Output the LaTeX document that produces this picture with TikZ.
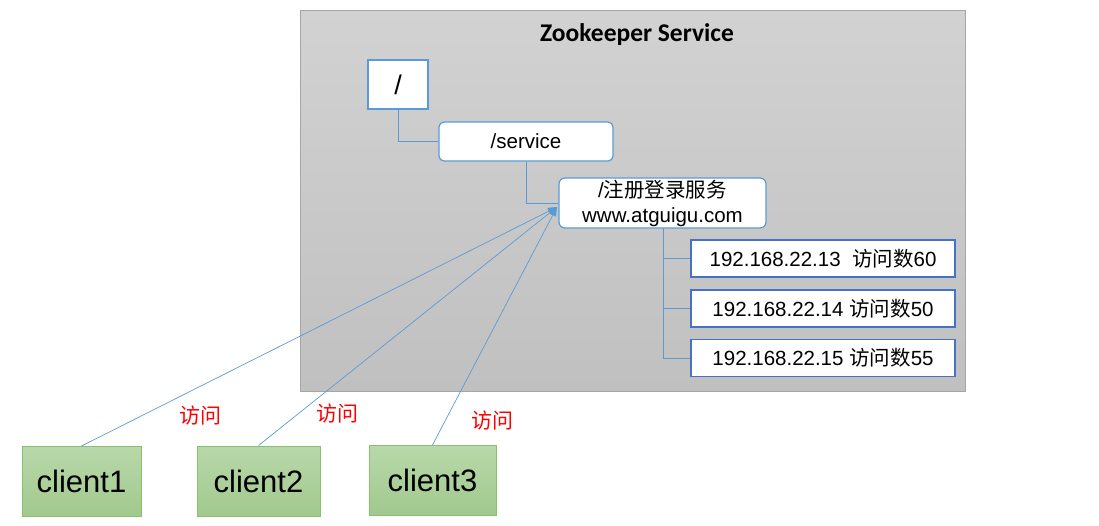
\documentclass[tikz,border=0pt]{standalone}
\usepackage{fontspec}
\setmainfont{Liberation Sans}
\newfontfamily\cjk{Noto Sans CJK SC}
\newfontfamily\titlefont{Carlito}
\usetikzlibrary{arrows.meta}
\definecolor{lineblue}{HTML}{5B9BD5}
\definecolor{ipblue}{HTML}{4472C4}
\definecolor{zkborder}{HTML}{A6A6A6}
\definecolor{grnborder}{HTML}{8BC06F}
\definecolor{grntop}{RGB}{184,216,170}
\definecolor{grnbot}{RGB}{161,201,141}
\definecolor{graytop}{RGB}{210,210,210}
\definecolor{graybot}{RGB}{192,192,192}
\tikzset{
  zkbox/.style={draw=lineblue, line width=1.2pt, fill=white, inner sep=0pt, font=\fontsize{20.5}{24}\selectfont},
  ipbox/.style={draw=ipblue, line width=1.3pt, fill=white, inner sep=0pt, minimum width=264pt, minimum height=37pt, font=\fontsize{20.5}{24}\selectfont},
  clientbox/.style={draw=grnborder, line width=1pt, top color=grntop, bottom color=grnbot, inner sep=0pt, minimum height=70pt, font=\fontsize{31}{34}\selectfont},
  link/.style={draw=lineblue, line width=0.7pt},
  visit/.style={text=red, font=\cjk\fontsize{21}{24}\selectfont},
}
\begin{document}
\begin{tikzpicture}[x=1pt,y=-1pt]
\useasboundingbox (0,0) rectangle (1099,525);
% service area
\node[draw=zkborder, line width=1pt, top color=graytop, bottom color=graybot, minimum width=665pt, minimum height=381pt, inner sep=0pt, anchor=north west] (svc) at (300,10) {};
\node[font=\titlefont\bfseries\fontsize{25.5}{28}\selectfont] (title) at (637,35) {Zookeeper Service};
% tree nodes
\node[zkbox, minimum width=60pt, minimum height=49pt, font=\fontsize{27}{30}\selectfont] (root) at (398,84.5) {/};
\node[zkbox, rounded corners=5pt, minimum width=174pt, minimum height=39pt] (service) at (526,141.5) {/service};
\node[zkbox, rounded corners=6pt, minimum width=207pt, minimum height=50pt, align=center, font=\fontsize{20.5}{25}\selectfont] (reg) at (662.5,203) {/{\cjk 注册登录服务}\\www.atguigu.com};
\draw[link] (root.south) |- (service.west);
\draw[link] (service.south) |- (reg.west);
% ip nodes
\node[ipbox] (ip1) at (823,258.5) {192.168.22.13\ \ {\cjk 访问数}60};
\node[ipbox] (ip2) at (823,308.5) {192.168.22.14 {\cjk 访问数}50};
\node[ipbox] (ip3) at (823,358) {192.168.22.15 {\cjk 访问数}55};
\coordinate (trunk) at (663,228);
\draw[link] (trunk) |- (ip1.west);
\draw[link] (trunk) |- (ip2.west);
\draw[link] (trunk) |- (ip3.west);
% clients
\node[clientbox, minimum width=119pt] (c1) at (81.5,481.5) {client1};
\node[clientbox, minimum width=123pt] (c2) at (258.5,481) {client2};
\node[clientbox, minimum width=127pt] (c3) at (432.5,480.5) {client3};
\coordinate (tip) at (557,207);
\draw[link, -{Triangle[length=9pt,width=7pt]}] (c1.north) -- (tip);
\draw[link, -{Triangle[length=9pt,width=7pt]}] (c2.north) -- (tip);
\draw[link, -{Triangle[length=9pt,width=7pt]}] (c3.north) -- (tip);
\node[visit] (v1) at (200,416) {访问};
\node[visit] (v2) at (337,414) {访问};
\node[visit] (v3) at (492,421) {访问};
\end{tikzpicture}
\end{document}
